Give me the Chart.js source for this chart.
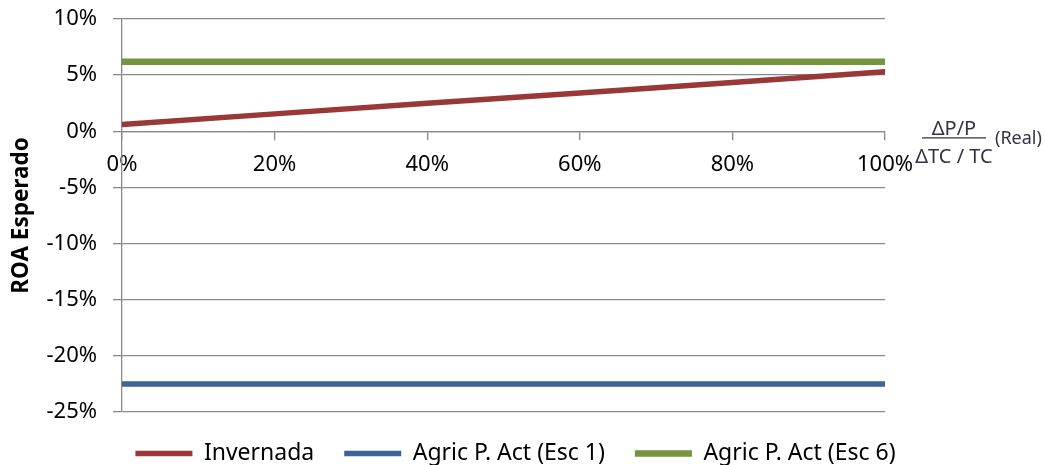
<!DOCTYPE html>
<html lang="es">
<head>
  <meta charset="UTF-8">
  <title>ROA Esperado</title>
  <script src="https://cdn.jsdelivr.net/npm/chart.js"></script>
  <style>
    body {
      margin: 0;
      background-color: #fff;
    }
    #wrap {
      width: 1045px;
      height: 465px;
    }
  </style>
</head>
<body>
  <div id="wrap"><canvas id="roaChart"></canvas></div>

  <script>
    // valores (en %)
    const xValues = [0, 20, 40, 60, 80, 100];
    const invernada = [0.6, 1.55, 2.5, 3.4, 4.35, 5.3];
    const agricEsc1 = [-22.5, -22.5, -22.5, -22.5, -22.5, -22.5];
    const agricEsc6 = [6.2, 6.2, 6.2, 6.2, 6.2, 6.2];
    const seriesNames = ['Invernada', 'Agric P. Act (Esc 1)', 'Agric P. Act (Esc 6)'];
    const yMin = -25, yMax = 10, yStep = 5;
    const xMin = 0, xMax = 100, xStep = 20;

    const gridColor = '#898989';
    const font = 'Noto Sans';

    function toPoints(values) {
      return xValues.map((x, i) => ({ x: x, y: values[i] }));
    }

    // titulo del eje x: fraccion dibujada junto al final del eje
    const fractionTitle = {
      id: 'fractionTitle',
      afterLayout(chart) {
        // la leyenda se centra en todo el ancho, no solo hasta el area del grafico
        chart.legend.left = 0;
        chart.legend.right = chart.width - 14;
      },
      afterDraw(chart) {
        const ctx = chart.ctx;
        const x0 = chart.chartArea.right;
        const y0 = chart.scales.y.getPixelForValue(0);
        ctx.save();
        ctx.fillStyle = '#333344';
        ctx.strokeStyle = '#333344';
        ctx.font = '20px "' + font + '"';
        ctx.textAlign = 'center';
        ctx.textBaseline = 'alphabetic';
        ctx.fillText('\u0394P/P', x0 + 69, y0 + 4);
        ctx.fillText('\u0394TC / TC', x0 + 69, y0 + 32);
        ctx.lineWidth = 1.3;
        ctx.beginPath();
        ctx.moveTo(x0 + 37, y0 + 6.5);
        ctx.lineTo(x0 + 101, y0 + 6.5);
        ctx.stroke();
        ctx.font = '18px "' + font + '"';
        ctx.textAlign = 'left';
        ctx.fillText('(Real)', x0 + 110, y0 + 13);
        ctx.restore();
      }
    };

    const ctx = document.getElementById('roaChart').getContext('2d');
    const roaChart = new Chart(ctx, {
      type: 'line',
      data: {
        datasets: [
          {
            label: seriesNames[0],
            data: toPoints(invernada),
            borderColor: '#993836',
            backgroundColor: '#993836',
            borderWidth: 5.5
          },
          {
            label: seriesNames[1],
            data: toPoints(agricEsc1),
            borderColor: '#3C6496',
            backgroundColor: '#3C6496',
            borderWidth: 5.5
          },
          {
            label: seriesNames[2],
            data: toPoints(agricEsc6),
            borderColor: '#77933C',
            backgroundColor: '#77933C',
            borderWidth: 6.5
          }
        ]
      },
      options: {
        responsive: true,
        maintainAspectRatio: false,
        animation: false,
        elements: {
          point: { radius: 0, hoverRadius: 0 },
          line: { tension: 0, borderCapStyle: 'round' }
        },
        layout: {
          padding: { top: 19, right: 160, bottom: -10, left: 0 }
        },
        plugins: {
          tooltip: { enabled: false },
          legend: {
            position: 'bottom',
            labels: {
              usePointStyle: true,
              pointStyle: 'line',
              pointStyleWidth: 57,
              padding: 30,
              color: '#000',
              font: { family: font, size: 23 }
            }
          }
        },
        scales: {
          x: {
            type: 'linear',
            position: { y: 0 },
            min: xMin,
            max: xMax,
            ticks: {
              stepSize: xStep,
              padding: 12,
              color: '#000',
              font: { family: font, size: 22 },
              callback: v => v + '%'
            },
            grid: {
              drawOnChartArea: false,
              drawTicks: true,
              tickLength: 8,
              color: gridColor,
              lineWidth: 1.3
            },
            border: { color: gridColor, width: 1.3 }
          },
          y: {
            min: yMin,
            max: yMax,
            afterFit(scale) {
              scale.width = 122;
              scale.paddingTop = 13;
              scale.paddingBottom = 13;
            },
            ticks: {
              stepSize: yStep,
              padding: 16,
              color: '#000',
              font: { family: font, size: 22 },
              callback: v => v + '%'
            },
            grid: {
              color: gridColor,
              lineWidth: 1.3,
              tickLength: 9
            },
            border: { color: gridColor, width: 1.3 },
            title: {
              display: true,
              text: 'ROA Esperado',
              color: '#000',
              padding: { top: 8, bottom: 0 },
              font: { family: font, size: 22.5, weight: 'bold' }
            }
          }
        }
      },
      plugins: [fractionTitle]
    });
  </script>
</body>
</html>
